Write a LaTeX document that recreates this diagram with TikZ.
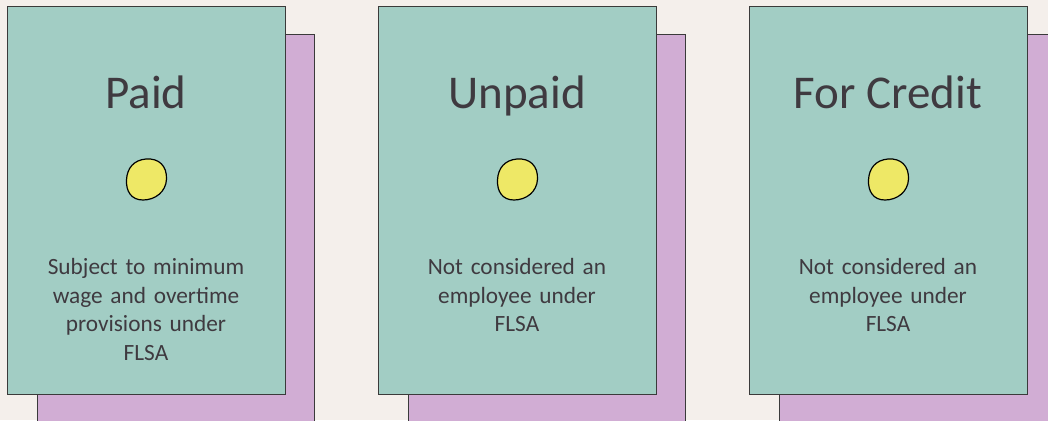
\documentclass[tikz,border=0pt]{standalone}
\usepackage{fontspec}
\setmainfont{Carlito}
\definecolor{bg}{HTML}{F4EFEB}
\definecolor{teal}{HTML}{A2CDC4}
\definecolor{lilac}{HTML}{D1ADD4}
\definecolor{ink}{HTML}{3F3A40}
\definecolor{dot}{HTML}{EEE866}
\definecolor{edge}{HTML}{3A3A3A}
\begin{document}
\begin{tikzpicture}[x=1pt,y=-1pt,
  front/.style={draw=edge,line width=1.2pt,fill=teal,minimum width=278pt,minimum height=388pt,anchor=north west,inner sep=0pt},
  back/.style={draw=edge,line width=1.2pt,fill=lilac,minimum width=277pt,minimum height=420pt,anchor=north west,inner sep=0pt},
  title/.style={text=ink,font=\fontsize{47}{56}\selectfont,anchor=base,inner sep=0pt},
  body/.style={text=ink,font=\fontsize{23.3}{28.7}\selectfont,align=center,text width=250pt,anchor=north,inner sep=0pt},
  blob/.style={draw=black,line width=1.2pt,fill=dot}]
\fill[bg] (0,0) rectangle (1048,420);
\useasboundingbox (0,0) rectangle (1048,420);
\foreach \i/\x/\t/\b in {1/7/Paid/{Subject to minimum\\wage and overtime\\provisions under\\FLSA},
                        2/378/Unpaid/{Not considered an\\employee under\\FLSA},
                        3/749/For Credit/{Not considered an\\employee under\\FLSA}}{
  \node[back] (b\i) at (\x+30,34) {};
  \node[front] (f\i) at (\x,6) {};
  \node[title] (t\i) at (\x+139,108) {\t};
  \draw[blob] (\x+139,159) .. controls (\x+152,158) and (\x+160,166) .. (\x+159.5,179)
     .. controls (\x+159,192) and (\x+148,200) .. (\x+136,200)
     .. controls (\x+124,200) and (\x+119,191) .. (\x+119.5,180)
     .. controls (\x+120,168) and (\x+127,160) .. (\x+139,159) -- cycle;
  \node[body] (d\i) at (\x+139,258) {\b};
}
\end{tikzpicture}
\end{document}
